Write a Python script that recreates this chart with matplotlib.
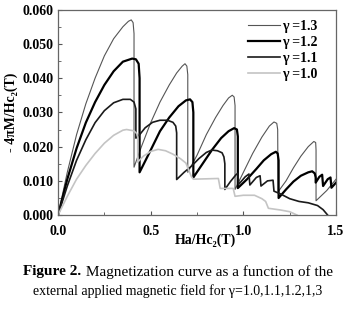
import matplotlib as mpl
mpl.use('Agg')
import matplotlib.pyplot as plt
from matplotlib.ticker import MultipleLocator

# ---- data:  H = Ha/Hc2 , m = -4piM/Hc2 ----
h13 = [0, 0.05, 0.1, 0.15, 0.2, 0.25, 0.3, 0.35, 0.38, 0.395, 0.405, 0.41,
       0.41, 0.45, 0.50, 0.55, 0.60, 0.64, 0.67, 0.685, 0.695, 0.70,
       0.70, 0.75, 0.80, 0.85, 0.89, 0.92, 0.94, 0.95, 0.955,
       0.955, 1.00, 1.05, 1.10, 1.14, 1.165, 1.18, 1.185,
       1.187, 1.23, 1.27, 1.31, 1.35, 1.38, 1.39, 1.392,
       1.392, 1.45, 1.50]
m13 = [0, 0.0125, 0.0235, 0.0325, 0.040, 0.0465, 0.0515, 0.055, 0.0566, 0.057, 0.0562, 0.053,
       0.014, 0.020, 0.027, 0.033, 0.038, 0.0415, 0.0435, 0.0442, 0.0435, 0.041,
       0.0125, 0.0175, 0.0235, 0.0285, 0.032, 0.0342, 0.035, 0.0345, 0.032,
       0.0075, 0.0125, 0.018, 0.0228, 0.026, 0.0272, 0.0268, 0.025,
       0.0068, 0.010, 0.0138, 0.0172, 0.020, 0.0215, 0.0212, 0.019,
       0.0042, 0.0072, 0.0105]

h12 = [0, 0.05, 0.1, 0.15, 0.2, 0.25, 0.3, 0.35, 0.40, 0.42, 0.435, 0.44,
       0.44, 0.50, 0.55, 0.60, 0.65, 0.69, 0.712, 0.725, 0.73,
       0.73, 0.78, 0.83, 0.88, 0.92, 0.95, 0.965, 0.97,
       0.97, 1.02, 1.07, 1.11, 1.15, 1.175, 1.185, 1.19,
       1.19, 1.23, 1.27, 1.31, 1.35, 1.371, 1.385, 1.39,
       1.39, 1.41, 1.425, 1.43, 1.455, 1.47, 1.475, 1.50]
m12 = [0, 0.0105, 0.0195, 0.027, 0.033, 0.038, 0.042, 0.0448, 0.0457, 0.0455, 0.0442, 0.040,
       0.0125, 0.019, 0.0245, 0.0285, 0.0318, 0.0335, 0.0338, 0.033, 0.030,
       0.011, 0.015, 0.019, 0.0225, 0.0245, 0.0254, 0.025, 0.023,
       0.0079, 0.0105, 0.0135, 0.016, 0.0178, 0.0185, 0.018, 0.016,
       0.005, 0.0075, 0.0098, 0.0115, 0.0125, 0.0128, 0.0122, 0.011,
       0.0095, 0.0112, 0.0118, 0.0085, 0.0105, 0.011, 0.008, 0.0095]

h11 = [0, 0.05, 0.1, 0.15, 0.2, 0.25, 0.3, 0.35, 0.39, 0.41, 0.42,
       0.42, 0.43, 0.47, 0.51, 0.55, 0.59, 0.62, 0.635, 0.64,
       0.64, 0.68, 0.72, 0.76, 0.80, 0.83, 0.86, 0.885, 0.895, 0.90,
       0.90, 0.93, 0.96, 0.97, 0.975, 1.01, 1.03, 1.035, 1.07, 1.09, 1.095,
       1.13, 1.16, 1.165, 1.20, 1.25, 1.30, 1.35, 1.40, 1.43, 1.455]
m11 = [0, 0.0085, 0.016, 0.022, 0.027, 0.0305, 0.0328, 0.0338, 0.0338, 0.033, 0.031,
       0.0225, 0.0228, 0.0255, 0.0271, 0.0277, 0.0277, 0.0271, 0.026, 0.024,
       0.0104, 0.0125, 0.0143, 0.0165, 0.0183, 0.019, 0.0188, 0.0182, 0.017, 0.015,
       0.0075, 0.0098, 0.0118, 0.0122, 0.009, 0.0112, 0.012, 0.0088, 0.011, 0.0115, 0.0085,
       0.010, 0.0102, 0.0070, 0.0062, 0.0048, 0.0040, 0.0036, 0.0028, 0.0016, 0.0]

h10 = [0, 0.05, 0.1, 0.15, 0.2, 0.25, 0.3, 0.35, 0.37, 0.41, 0.425, 0.43,
       0.43, 0.46, 0.50, 0.54, 0.58, 0.62, 0.66, 0.69, 0.70, 0.72, 0.73,
       0.80, 0.865, 0.875, 0.945, 0.955, 1.00, 1.06, 1.10, 1.12, 1.135,
       1.20, 1.25, 1.29]
m10 = [0, 0.0055, 0.0105, 0.0145, 0.018, 0.021, 0.0233, 0.0248, 0.025, 0.0246, 0.0238, 0.023,
       0.0155, 0.0172, 0.0186, 0.0192, 0.0188, 0.0178, 0.0165, 0.0152, 0.0138, 0.0112, 0.0105,
       0.0106, 0.0107, 0.0078, 0.0078, 0.0055, 0.0058, 0.0058, 0.0048, 0.0040, 0.0020,
       0.0015, 0.0010, 0.0]

labels = ['\u03b3 =1.3', '\u03b3 =1.2', '\u03b3 =1.1', '\u03b3 =1.0']

serif = ['Liberation Serif', 'DejaVu Serif']
plt.rcParams['font.family'] = serif
plt.rcParams['font.weight'] = 'bold'

fig = plt.figure(figsize=(3.56, 3.10), dpi=100)
ax = fig.add_axes([0.163, 0.306, 0.781, 0.663])

ax.plot(h13, m13, color='#555555', lw=0.8, label=labels[0])
ax.plot(h12, m12, color='black', lw=1.6, label=labels[1])
ax.plot(h11, m11, color='#1a1a1a', lw=1.2, label=labels[2])
ax.plot(h10, m10, color='#c4c4c4', lw=1.2, label=labels[3])

ax.set_xlim(0, 1.5)
ax.set_ylim(0, 0.060)
ax.xaxis.set_major_locator(MultipleLocator(0.5))
ax.xaxis.set_minor_locator(MultipleLocator(0.25))
ax.yaxis.set_major_locator(MultipleLocator(0.01))
ax.yaxis.set_minor_locator(MultipleLocator(0.005))
ax.yaxis.set_major_formatter(mpl.ticker.FormatStrFormatter('%.3f'))
ax.xaxis.set_major_formatter(mpl.ticker.FormatStrFormatter('%.1f'))
ax.tick_params(which='both', direction='in', colors='#555555', labelcolor='black',
               labelsize=10, top=False, right=False)
ax.tick_params(which='major', length=3)
ax.tick_params(which='minor', length=2)
ax.tick_params(axis='x', pad=7)
for sp in ax.spines.values():
    sp.set_color('#666666')
    sp.set_linewidth(0.9)

ax.set_xlabel('Ha/Hc\u2082(T)', fontsize=10, fontweight='bold')
ax.xaxis.set_label_coords(0.53, -0.09)
ax.set_ylabel('- 4\u03c0M/Hc\u2082(T)', fontsize=10, fontweight='bold')
ax.yaxis.set_label_coords(-0.145, 0.5)

leg = ax.legend(loc='upper right', bbox_to_anchor=(0.965, 0.99), frameon=False,
                prop={'family': serif, 'weight': 'bold', 'size': 10},
                handlelength=2.3, handletextpad=0.2, labelspacing=0.22, borderaxespad=0.2)

# caption
renderer = fig.canvas.get_renderer()
t1 = fig.text(0, 1 - 272 / 310, 'Figure 2.', fontsize=11, fontweight='bold', va='center')
t2 = fig.text(0, 1 - 272 / 310, ' Magnetization curve as a function of the',
              fontsize=11, fontweight='normal', va='center')
w1 = t1.get_window_extent(renderer).width
w2 = t2.get_window_extent(renderer).width
x0 = (356 - w1 - w2) / 2
t1.set_x(x0 / 356)
t2.set_x((x0 + w1) / 356)
fig.text(0.5, 1 - 291 / 310, 'external applied magnetic field for \u03b3=1.0,1.1,1.2,1,3',
         fontsize=10, fontweight='normal', ha='center', va='center')

fig.savefig('out.png', dpi=100)
